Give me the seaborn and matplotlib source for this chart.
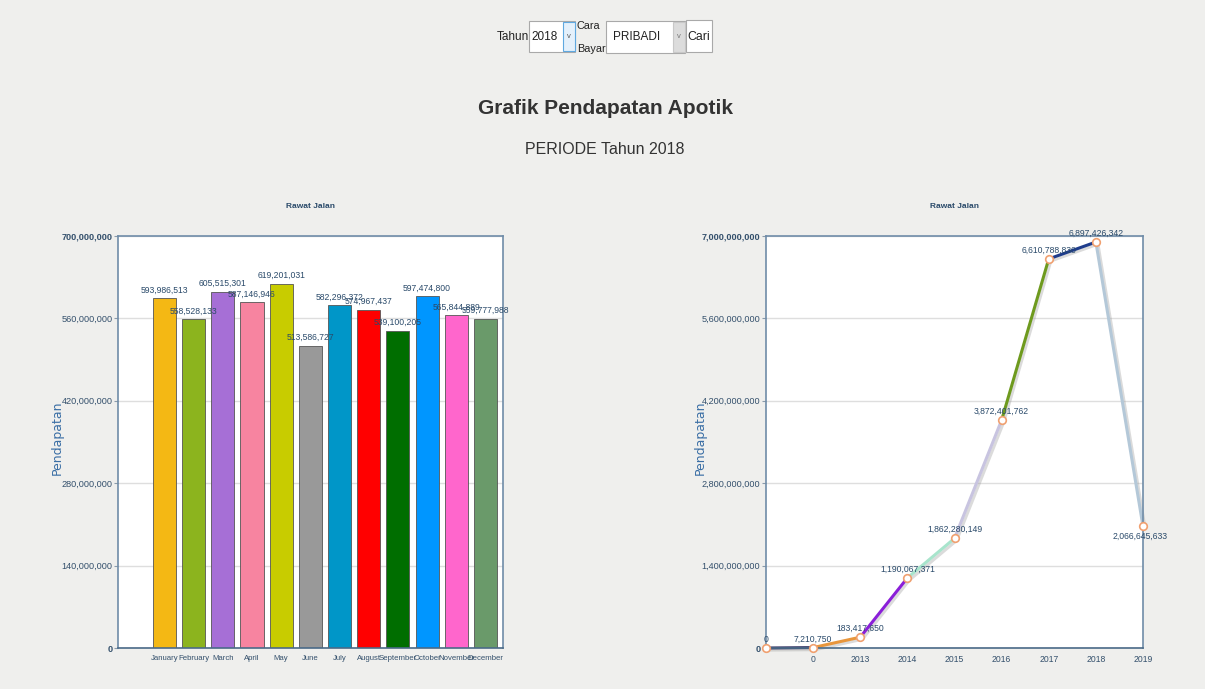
import matplotlib
matplotlib.use("Agg")
import matplotlib.pyplot as plt
import matplotlib.patheffects as pe
from matplotlib.patches import Rectangle
import seaborn as sns
import pandas as pd

# ---------------- data ----------------
months = ["January", "February", "March", "April", "May", "June", "July",
          "August", "September", "October", "November", "December"]
month_values = [593986513, 558528133, 605515301, 587146946, 619201031, 513586727,
                582296372, 574967437, 539100205, 597474800, 565844889, 559777988]
bar_colors = ["#f4b814", "#8cb41e", "#a66fd6", "#f784a0", "#c8cc00", "#999999",
              "#0096c8", "#ff0000", "#006e00", "#0096ff", "#ff66cc", "#6a9a6a"]
bar_yticks = [0, 140000000, 280000000, 420000000, 560000000, 700000000]

years = ["", "0", "2013", "2014", "2015", "2016", "2017", "2018", "2019"]
year_values = [0, 7210750, 183417650, 1190067371, 1862280149, 3872401762,
               6610788830, 6897426342, 2066645633]
segment_colors = ["#3c3c6a", "#e8963c", "#8a1fd8", "#a8e4cc", "#c8c4e0",
                  "#6e9a1e", "#1e3c8c", "#b4c8d8"]
line_yticks = [0, 1400000000, 2800000000, 4200000000, 5600000000, 7000000000]

chart_title = "Rawat Jalan"
y_label = "Pendapatan"
main_title = "Grafik Pendapatan Apotik"
sub_title = "PERIODE Tahun 2018"

# ---------------- style ----------------
sns.set_theme(style="white")
plt.rcParams["font.family"] = ["Liberation Sans", "DejaVu Sans"]

W, H = 1205, 689
fig = plt.figure(figsize=(W / 100, H / 100), dpi=100)
fig.patch.set_facecolor("#efefed")

def fx(x):
    return x / W

def fy(y):
    return 1 - y / H

TXT = "#34506c"
SPINE = "#6f8ca8"
GRID = "#dedede"

def style_axes(ax, yticks, label_x):
    ax.set_facecolor("white")
    for s in ax.spines.values():
        s.set_color(SPINE)
        s.set_linewidth(1.2)
    ax.spines["bottom"].set_color("#4a6a88")
    ax.set_yticks(yticks)
    labels = [f"{v:,}" for v in yticks]
    ax.set_yticklabels(labels, fontsize=6.6, color=TXT)
    for i, t in enumerate(ax.get_yticklabels()):
        if i == 0 or i == len(yticks) - 1:
            t.set_fontweight("bold")
    ax.tick_params(axis="y", length=3, width=0.8, color="#8a9aaa", pad=1, left=True)
    ax.tick_params(axis="x", length=0, pad=5)
    ax.set_ylim(0, yticks[-1])
    ax.yaxis.grid(True, color=GRID, linewidth=1)
    ax.xaxis.grid(False)
    ax.set_axisbelow(True)
    ax.set_xlabel("")
    ax.set_ylabel(y_label, fontsize=9, color="#3a6ea5", family="DejaVu Sans")
    ax.yaxis.set_label_coords(label_x, 0.51)
    ax.set_title(chart_title, fontsize=6, fontweight="bold", color="#2a4a6a", pad=20)

# ---------------- bar chart ----------------
ax1 = fig.add_axes([fx(118), fy(648), fx(503) - fx(118), fy(236) - fy(648)])
df_bar = pd.DataFrame({"month": months, "value": month_values})
sns.barplot(data=df_bar, x="month", y="value", hue="month", palette=bar_colors,
            legend=False, ax=ax1, width=0.79, saturation=1,
            edgecolor="#555555", linewidth=0.6)
style_axes(ax1, bar_yticks, (64 - 118) / 385)
ax1.set_xlim(-1.59, 11.6)
ax1.set_xticks(range(len(months)))
ax1.set_xticklabels(months, fontsize=5.6, color=TXT)
for i, v in enumerate(month_values):
    ax1.annotate(f"{v:,}", (i, v), xytext=(0, 2.5), textcoords="offset points",
                 ha="center", va="bottom", fontsize=6.2, color="#2a4a6a")

# ---------------- line chart ----------------
ax2 = fig.add_axes([fx(766), fy(648), fx(1143) - fx(766), fy(236) - fy(648)])
rows = []
for s in range(len(year_values) - 1):
    rows.append({"seg": s, "x": s, "y": year_values[s]})
    rows.append({"seg": s, "x": s + 1, "y": year_values[s + 1]})
df_seg = pd.DataFrame(rows)
sns.lineplot(data=df_seg, x="x", y="y", hue="seg", palette=segment_colors,
             legend=False, ax=ax2, linewidth=2.2, sort=False, clip_on=False,
             path_effects=[pe.SimpleLineShadow(offset=(1.5, -1.5), shadow_color="#999999", alpha=0.35),
                           pe.Normal()])
df_pts = pd.DataFrame({"x": range(len(year_values)), "y": year_values})
sns.scatterplot(data=df_pts, x="x", y="y", ax=ax2, s=30, color="white",
                edgecolor="#f0a070", linewidth=1.2, zorder=5, clip_on=False)
style_axes(ax2, line_yticks, (707 - 766) / 377)
ax2.set_xlim(0, len(years) - 1)
ax2.set_xticks(range(len(years)))
ax2.set_xticklabels(years, fontsize=6.2, color=TXT)
for i, v in enumerate(year_values):
    if i == len(year_values) - 1:
        ax2.annotate(f"{v:,}", (i, v), xytext=(-2, -4), textcoords="offset points",
                     ha="center", va="top", fontsize=6.2, color="#2a4a6a",
                     annotation_clip=False)
    else:
        ax2.annotate(f"{v:,}", (i, v), xytext=(0, 3), textcoords="offset points",
                     ha="center", va="bottom", fontsize=6.2, color="#2a4a6a",
                     annotation_clip=False)

# ---------------- page header ----------------
head_font = ["Liberation Sans", "DejaVu Sans"]
fig.text(fx(605), fy(108), main_title, ha="center", va="center", fontsize=15,
         fontweight="bold", color="#333333", family=head_font)
fig.text(fx(605), fy(149), sub_title, ha="center", va="center", fontsize=11.5,
         color="#333333", family=head_font)

def box(x0, y0, x1, y1, ec="#a9a9a9", fc="white", lw=0.8):
    fig.add_artist(Rectangle((fx(x0), fy(y1)), fx(x1) - fx(x0), fy(y0) - fy(y1),
                             transform=fig.transFigure, facecolor=fc, edgecolor=ec, linewidth=lw))

fig.text(fx(513), fy(37), "Tahun", ha="center", va="center", fontsize=8.5,
         color="#222222", family=head_font)
box(529, 21, 575, 52)
box(563, 22, 575, 51, ec="#5fa8e0", fc="#e4f0fb")
fig.text(fx(545), fy(37), "2018", ha="center", va="center", fontsize=8.5,
         color="#222222", family=head_font)
fig.text(fx(569), fy(37), "v", ha="center", va="center", fontsize=5.5, color="#555555")
fig.text(fx(588), fy(26), "Cara", ha="center", va="center", fontsize=7.8,
         color="#222222", family=head_font)
fig.text(fx(591), fy(49), "Bayar", ha="center", va="center", fontsize=7.8,
         color="#222222", family=head_font)
box(606, 21, 685, 53)
box(673, 22, 685, 52, ec="#c8c8c8", fc="#dcdcdc")
fig.text(fx(637), fy(37), "PRIBADI", ha="center", va="center", fontsize=8.5,
         color="#222222", family=head_font)
fig.text(fx(679), fy(37), "v", ha="center", va="center", fontsize=5.5, color="#777777")
box(686, 20, 712, 52)
fig.text(fx(699), fy(37), "Cari", ha="center", va="center", fontsize=8.8,
         color="#222222", family=head_font)

fig.savefig("out.png", dpi=100, facecolor=fig.get_facecolor())
